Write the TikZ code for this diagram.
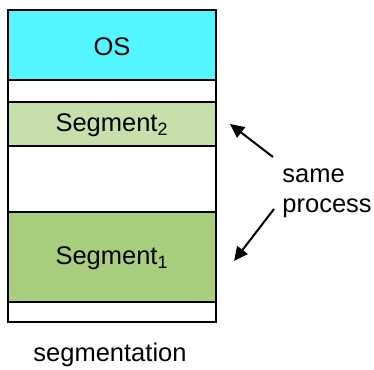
\documentclass[tikz,border=0pt]{standalone}
\usepackage{fontspec}
\setmainfont{Liberation Sans}
\usetikzlibrary{arrows.meta}
\definecolor{oscyan}{RGB}{83,245,255}
\definecolor{segB}{RGB}{199,223,171}
\definecolor{segA}{RGB}{169,206,126}
\tikzset{
  block/.style={draw=black, line width=1pt},
  lbl/.style={inner sep=0pt, font=\fontsize{12.75}{15}\selectfont},
  pointer/.style={line width=1pt, -{Stealth[length=7pt,width=6.5pt,inset=0pt]}}
}
\begin{document}
\begin{tikzpicture}[x=0.5pt,y=-0.5pt]
  \useasboundingbox (0,0) rectangle (374,369);
  % memory column
  \draw[block, fill=white] (8,10) rectangle (216,322);
  \draw[block, fill=oscyan] (8,10) rectangle (216,80);
  \draw[block, fill=segB] (8,102) rectangle (216,146);
  \draw[block, fill=segA] (8,212) rectangle (216,302);
  % labels
  \node[lbl] (os) at (112,47) {OS};
  \node[lbl] (seg2) at (112,125) {Segment\textsubscript{2}};
  \node[lbl] (seg1) at (112,258) {Segment\textsubscript{1}};
  \node[lbl, anchor=base west] (same) at (282,182) {same};
  \node[lbl, anchor=base west] (proc) at (282,212) {process};
  \node[lbl] (cap) at (110,355) {segmentation};
  % pointers
  \coordinate (a1s) at (273,157);
  \coordinate (a1e) at (230,124);
  \coordinate (a2s) at (274,209);
  \coordinate (a2e) at (234,261);
  \draw[pointer] (a1s) -- (a1e);
  \draw[pointer] (a2s) -- (a2e);
\end{tikzpicture}
\end{document}
